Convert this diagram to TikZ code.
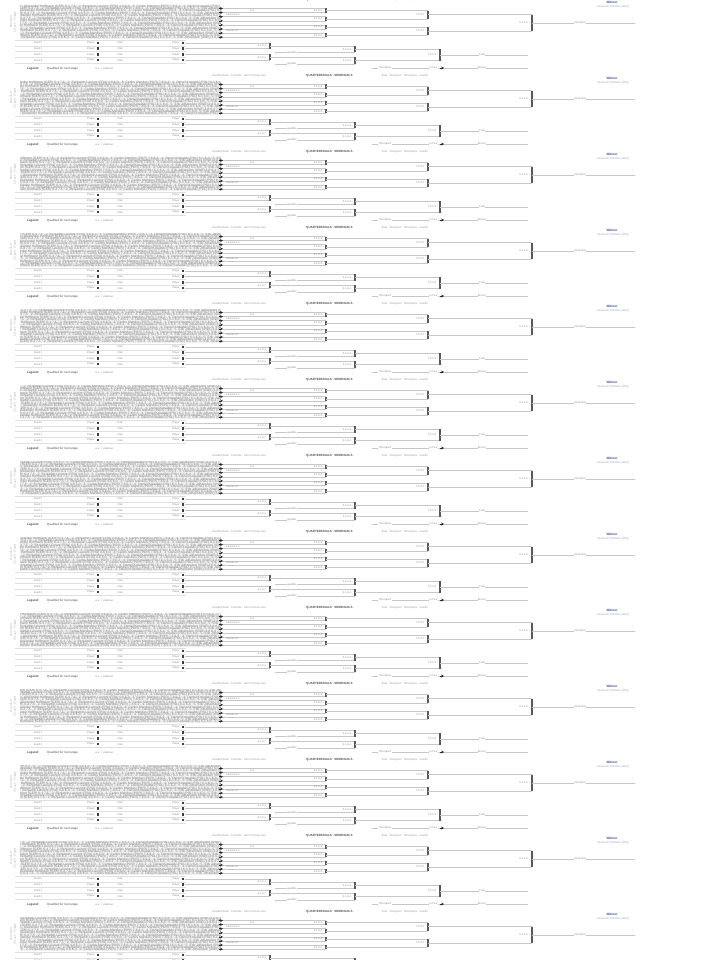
\documentclass[tikz,border=0pt]{standalone}
\usepackage{fontspec}
\setmainfont{Liberation Sans}
\usetikzlibrary{arrows.meta}
\definecolor{winblue}{RGB}{60,72,125}
\definecolor{winlight}{RGB}{150,160,200}
\newcommand\densetext{1. Alexander Hoffmann (GER) 6-4 7-5 · 2. Benjamin Laurent (FRA) 4-6 6-3 · 3. Carlos Mendes (POR) 7-6 6-2 · 4. Daniel Kowalski (POL) 6-1 6-4 · 5. Erik Johansson (SWE) 3-6 6-4 7-5 · 6. Filip Novak (CZE) 6-2 6-2 · 7. Giorgio Rossi (ITA) 7-5 6-7 6-3 · 8. Hugo Martin (BEL) 6-3 6-4}
\begin{document}
\begin{tikzpicture}[x=1pt,y=-1pt,
  lbl/.style={font=\fontsize{2.6}{3}\selectfont, text=black!45, inner sep=0.2pt},
  lblw/.style={lbl, fill=white},
  hdr/.style={font=\fontsize{2.8}{3}\selectfont, text=black!40, inner sep=0pt},
  hdrd/.style={font=\fontsize{3}{3}\selectfont\bfseries, text=black!70, inner sep=0pt},
  vlbl/.style={font=\fontsize{2.6}{3}\selectfont, text=black!35, inner sep=0pt},
  dense/.style={font=\fontsize{3.3}{3.4}\selectfont, text=black!50, inner sep=0pt},
  ln/.style={draw=black!22, line width=0.45pt},
  grd/.style={draw=black!12, line width=0.4pt},
  brk/.style={draw=black!65, line width=1.7pt},
  tipline/.style={draw=black!85, line width=0.5pt, -{Stealth[length=2.8pt,width=2.8pt]}},
  sq/.style={fill=black!75, minimum size=2.6pt, inner sep=0pt},
  win/.style={font=\fontsize{3.2}{3.5}\selectfont\bfseries, text=winblue, inner sep=0pt},
  winsub/.style={font=\fontsize{2.6}{3}\selectfont, text=winlight, inner sep=0pt},
  ftb/.style={font=\fontsize{3}{3}\selectfont\bfseries, text=black!75, inner sep=0pt},
  ftd/.style={font=\fontsize{3}{3}\selectfont, text=black!70, inner sep=0pt}]
\useasboundingbox (0,0) rectangle (720,960);
\fill[white] (0,0) rectangle (720,960);
\begin{scope}
\clip (0,0) rectangle (720,960);
\foreach \k in {0,...,12}{
 \pgfmathsetmacro\Y{-(1+76*\k)}
 \begin{scope}[yshift=\Y pt]
  % header
  \node[hdr, anchor=west] (ha\k) at (206,-1.5) {· · · \ Seeded draw · 8 entries · best of three sets · };
  \node[hdrd, anchor=west] (hb\k) at (306,-1.5) {QUARTERFINALS \ \ SEMIFINALS};
  \node[hdr, anchor=west] (hc\k) at (380,-1.5) {· final · champion · third place · results ·};
  % vertical labels
  \node[vlbl, rotate=90] (v\k) at (11,21) {Main draw};
  \node[vlbl, rotate=90] (w\k) at (15,21) {Group A · Singles};
  % dense entries
  \begin{scope}
   \clip (20,4) rectangle (220.5,38);
   \fill[black!6] (20,4) rectangle (220.5,38);
   \foreach \r in {0,...,13}{
    \pgfmathsetmacro\dx{20-mod(\r*37+\k*11,70)}
    \node[dense, anchor=west] (d\k-\r) at (\dx,{5.2+2.45*\r}) {\densetext};
   }
  \end{scope}
  % first round
  \foreach \i in {0,...,7}{
   \pgfmathsetmacro\ry{7.5+4.1*\i}
   \coordinate (s\k-\i) at (218.5,\ry);
   \coordinate (a\k-\i) at (223,\ry);
   \coordinate (b\k-\i) at (326,\ry);
   \draw[tipline] (s\k-\i) -- (a\k-\i);
   \draw[ln] (a\k-\i) -- (b\k-\i);
  }
  \node[lbl, anchor=west] (n1\k) at (226,13.6) {Laurent w.o.};
  \node[lbl, anchor=west] (n2\k) at (226,30) {Novak ret.};
  \node[lbl, anchor=west] (n3\k) at (250,9.5) {6-4};
  % quarterfinal bars
  \foreach \j in {0,...,3}{
   \pgfmathtruncatemacro\p{2*\j}
   \pgfmathtruncatemacro\q{2*\j+1}
   \pgfmathsetmacro\cy{9.55+8.2*\j}
   \draw[brk] (b\k-\p) -- (b\k-\q);
   \coordinate (c\k-\j) at (326,\cy);
   \coordinate (e\k-\j) at (428,\cy);
   \draw[ln] (c\k-\j) -- (e\k-\j);
   \node[lbl, anchor=east] (la\k-\j) at (322.5,\cy) {6-4 6-3};
  }
  % semifinal bars
  \foreach \m in {0,1}{
   \pgfmathtruncatemacro\p{2*\m}
   \pgfmathtruncatemacro\q{2*\m+1}
   \pgfmathsetmacro\cy{13.65+16.4*\m}
   \draw[brk] (e\k-\p) -- (e\k-\q);
   \coordinate (f\k-\m) at (428,\cy);
   \coordinate (g\k-\m) at (532,\cy);
   \draw[ln] (f\k-\m) -- (g\k-\m);
   \node[lbl, anchor=east] (lb\k-\m) at (424.5,\cy) {7-5 6-2};
  }
  \draw[brk] (g\k-0) -- (g\k-1);
  \coordinate (fin\k) at (532,21.85);
  \coordinate (end\k) at (635,21.85);
  \draw[ln] (fin\k) -- (end\k);
  \node[lbl, anchor=east] (lc\k) at (528,21.85) {6-3 7-6};
  \node[lblw] (ld\k) at (580,21.85) {Champion};
  \node[win] (wn\k) at (612,1.5) {Winner};
  \node[winsub] (ws\k) at (613,5.5) {Alexander Hoffmann (GER)};
  % lower table
  \draw[grd] (15,39.2) -- (186,39.2);
  \foreach \i in {0,...,3}{
   \pgfmathsetmacro\ry{42+5.7*\i}
   \draw[grd] (15,\ry+2.85) -- (186,\ry+2.85);
   \node[lbl] (t1\k-\i) at (38,\ry) {Seed \i};
   \node[lbl, anchor=east] (t2\k-\i) at (95,\ry) {Player};
   \node[sq] (q1\k-\i) at (98,\ry) {};
   \node[lbl] (t3\k-\i) at (120,\ry) {Club};
   \node[lbl, anchor=east] (t4\k-\i) at (180,\ry) {Player};
   \node[sq] (q2\k-\i) at (183,\ry) {};
   \coordinate (u\k-\i) at (270,\ry);
   \draw[ln] (q2\k-\i) -- (u\k-\i);
  }
  \foreach \j in {0,1}{
   \pgfmathtruncatemacro\p{2*\j}
   \pgfmathtruncatemacro\q{2*\j+1}
   \pgfmathsetmacro\cy{44.85+11.4*\j}
   \pgfmathsetmacro\cz{\cy+6.65}
   \pgfmathsetmacro\cc{\cy+3.325}
   \draw[brk] (u\k-\p) -- (u\k-\q);
   \node[lbl, anchor=east] (lu\k-\j) at (266.5,\cy) {6-2 6-1};
   \coordinate (x\k-\j) at (270,\cy);
   \coordinate (y\k-\j) at (355,\cy);
   \draw[ln] (x\k-\j) -- (y\k-\j);
   \coordinate (z\k-\j) at (275,\cz);
   \coordinate (zz\k-\j) at (355,\cz);
   \draw[ln] (z\k-\j) -- (zz\k-\j);
   \node[lblw] (lz\k-\j) at (292,\cz) {qualifier};
   \draw[brk] (y\k-\j) -- (zz\k-\j);
   \node[lbl, anchor=east] (lo\k-\j) at (351.5,\cc) {6-4 6-4};
   \coordinate (o\k-\j) at (355,\cc);
   \coordinate (p\k-\j) at (440,\cc);
   \draw[ln] (o\k-\j) -- (p\k-\j);
  }
  \draw[brk] (p\k-0) -- (p\k-1);
  \coordinate (pf\k) at (440,53.875);
  \coordinate (pe\k) at (528,53.875);
  \draw[ln] (pf\k) -- (pe\k);
  \node[lbl, anchor=east] (lp\k) at (436.5,53.875) {7-6 6-4};
  \node[lblw] (lq\k) at (482,53.875) {Final};
  \coordinate (ts\k) at (372,67);
  \coordinate (ta\k) at (444,67);
  \coordinate (te\k) at (528,67);
  \draw[ln] (ts\k) -- (ta\k);
  \draw[tipline] ([xshift=-4pt]ta\k) -- (ta\k);
  \draw[ln] (ta\k) -- (te\k);
  \node[lblw] (lr\k) at (385,67) {Third place};
  \node[lblw, anchor=east] (ls\k) at (438,67) {6-3 6-4};
  \node[lblw] (lt\k) at (482,67) {Bronze};
  % footer
  \node[ftb, anchor=west] (fa\k) at (27,67.5) {Legend:};
  \node[ftd, anchor=west] (fb\k) at (47,67.5) {Qualified for next stage};
  \node[lbl, anchor=west] (fc\k) at (95,67.5) {w.o. = walkover};
 \end{scope}
}
\end{scope}
\end{tikzpicture}
\end{document}
